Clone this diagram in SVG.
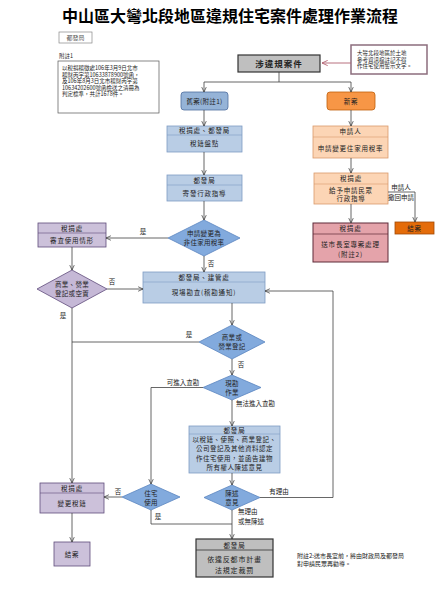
<svg xmlns="http://www.w3.org/2000/svg" width="446" height="600" viewBox="0 0 446 600">
<style>
text{font-family:"Noto Sans CJK TC","Noto Sans CJK SC",sans-serif;fill:#222;}
.t{font-size:6.5px;letter-spacing:0.8px;text-anchor:middle;}
.s{font-size:5.5px;}
.lb{font-size:6.5px;text-anchor:middle;}
.ln{fill:none;stroke:#404040;stroke-width:0.8;}
.bb{fill:#b9cde5;stroke:#7e9cc4;stroke-width:0.8;}
.db{fill:#82aadd;stroke:#5b85c0;stroke-width:0.8;}
.lv{fill:#ccc1da;stroke:#5f4b7b;stroke-width:0.8;}
.ld{fill:#c5b8d6;stroke:#5f4b7b;stroke-width:0.8;}
.pc{fill:#fcd5b5;stroke:#d99a6c;stroke-width:0.8;}
.pk{fill:#e4a3aa;stroke:#5e2a38;stroke-width:1;}
.gy{fill:#bfbfbf;stroke:#333;stroke-width:1.2;}
.hl{stroke-width:0.6;}
</style>
<defs>
<marker id="ar" viewBox="0 0 8 8" refX="7.5" refY="4" markerWidth="6" markerHeight="6" orient="auto" markerUnits="userSpaceOnUse"><path d="M1,1 L7.5,4 L1,7" fill="none" stroke="#404040" stroke-width="1"/></marker>
<marker id="arr" viewBox="0 0 8 8" refX="7.5" refY="4" markerWidth="7" markerHeight="7" orient="auto" markerUnits="userSpaceOnUse"><path d="M1,1 L7.5,4 L1,7" fill="none" stroke="#b06070" stroke-width="1"/></marker>
</defs>
<rect width="446" height="600" fill="#fff"/>

<g id="title"><text x="230" y="22" style="font-size:16px;font-weight:bold;text-anchor:middle;fill:#000">中山區大彎北段地區違規住宅案件處理作業流程</text></g>
<g id="dept"><rect x="59" y="32" width="33" height="11" fill="#fff" stroke="#888" stroke-width="0.7"/><text x="75.5" y="40" style="font-size:6px;text-anchor:middle;fill:#555">都發局</text></g>

<g id="note1">
<text x="59" y="58" class="s">附註1</text>
<rect x="58" y="61" width="101" height="52" fill="#fff" stroke="#555" stroke-width="0.7"/>
<text x="62" y="70" class="s">以稅捐稽徵處106年3月9日北市</text>
<text x="62" y="76.5" class="s">稽財丙字第10633878900號函，</text>
<text x="62" y="83" class="s">及106年8月3日北市稽財丙字第</text>
<text x="62" y="89.5" class="s">10634202600號函檢送之清冊為</text>
<text x="62" y="96" class="s">判定標準，共計1678件。</text>
</g>

<g id="note-top">
<rect x="351" y="45" width="76" height="29" fill="#fff" stroke="#8c6d7d" stroke-width="1.5"/>
<text x="357" y="55" class="s">大彎北段地區於土地</text>
<text x="357" y="61.5" class="s">參考資訊檔註記不得</text>
<text x="357" y="68" class="s">作住宅使用警示文字。</text>
</g>

<g id="note2">
<text x="297" y="558" style="font-size:6px">附註2:送市長室前，將由財政局及都發局</text>
<text x="297" y="566" style="font-size:6px">對申請民眾再勸導。</text>
</g>

<g id="start"><rect x="238" y="55" width="82" height="17" class="gy"/><text x="279" y="66.5" style="font-size:8.5px;font-weight:bold;letter-spacing:1px;text-anchor:middle">涉違規案件</text></g>

<g id="old"><rect x="181" y="92" width="47" height="18" rx="3" fill="#95b3d7" stroke="#4f6f9f" stroke-width="0.8"/><text x="204.5" y="103.5" class="t" style="letter-spacing:0.3px">舊案(附註1)</text></g>
<g id="new"><rect x="327" y="92" width="48" height="18" rx="3" fill="#f79646" stroke="#c0600a" stroke-width="0.8"/><text x="351" y="103.5" class="t">新案</text></g>

<g id="tax-check"><rect x="167" y="126" width="75" height="26" class="bb"/><line x1="167" y1="135" x2="242" y2="135" class="bb hl"/><text x="204.5" y="133" class="t">稅捐處、都發局</text><text x="204.5" y="146" class="t">稅籍盤點</text></g>
<g id="guide"><rect x="167" y="175" width="75" height="26" class="bb"/><line x1="167" y1="185" x2="242" y2="185" class="bb hl"/><text x="204.5" y="182.5" class="t">都發局</text><text x="204.5" y="195.5" class="t">寄發行政指導</text></g>
<g id="d-apply"><polygon points="204,220 240,238 204,256 168,238" class="db"/><text x="204" y="236" class="t" style="letter-spacing:0.3px">申請變更為</text><text x="204" y="245" class="t" style="letter-spacing:0.3px">非住家用稅率</text></g>
<g id="inspect"><rect x="143" y="272" width="122" height="31" class="bb"/><line x1="143" y1="282" x2="265" y2="282" class="bb hl"/><text x="204" y="279.5" class="t">都發局、建管處</text><text x="204" y="295" class="t">現場勘查(稽勘通知)</text></g>
<g id="tax-review"><rect x="38" y="223" width="68" height="24" class="lv"/><line x1="38" y1="233" x2="106" y2="233" class="lv hl"/><text x="72" y="230.5" class="t">稅捐處</text><text x="72" y="242.5" class="t">審查使用情形</text></g>
<g id="d-biz"><polygon points="72,270 107,289 72,308 37,289" class="ld"/><text x="72" y="287" class="t" style="letter-spacing:0.3px">商業、營業</text><text x="72" y="296" class="t" style="letter-spacing:0.3px">登記或空置</text></g>
<g id="d-reg"><polygon points="232,325 265,342 232,359 199,342" class="db"/><text x="232" y="340" class="t" style="letter-spacing:0.3px">商業或</text><text x="232" y="349" class="t" style="letter-spacing:0.3px">營業登記</text></g>
<g id="d-site"><polygon points="232,375 261,387.5 232,400 203,387.5" class="db"/><text x="232" y="386" class="t" style="letter-spacing:0.3px">現勘</text><text x="232" y="395" class="t" style="letter-spacing:0.3px">作業</text></g>
<g id="confirm"><rect x="189" y="426" width="91" height="47" class="bb"/><line x1="189" y1="434" x2="280" y2="434" class="bb hl"/><text x="234.5" y="432.5" class="t">都發局</text><text x="234.5" y="441.5" class="t" style="letter-spacing:0.5px">以稅籍、使照、商業登記、</text><text x="234.5" y="451" class="t" style="letter-spacing:0.5px">公司登記及其他資料認定</text><text x="234.5" y="460.5" class="t" style="letter-spacing:0.5px">作住宅使用，並函告建物</text><text x="234.5" y="470" class="t" style="letter-spacing:0.5px">所有權人陳述意見</text></g>
<g id="d-state"><polygon points="232,485 260,497.5 232,510 204,497.5" class="db"/><text x="232" y="496" class="t" style="letter-spacing:0.3px">陳述</text><text x="232" y="505" class="t" style="letter-spacing:0.3px">意見</text></g>
<g id="d-house"><polygon points="151,484 180,497 151,510 122,497" class="db"/><text x="151" y="495.5" class="t" style="letter-spacing:0.3px">住宅</text><text x="151" y="505" class="t" style="letter-spacing:0.3px">使用</text></g>
<g id="tax-change"><rect x="40" y="483" width="64" height="30" class="lv"/><line x1="40" y1="493" x2="104" y2="493" class="lv hl"/><text x="72" y="490.5" class="t">稅捐處</text><text x="72" y="506" class="t">變更稅籍</text></g>
<g id="close1"><rect x="54" y="542" width="36" height="24" class="lv"/><text x="72" y="556.5" class="t">結案</text></g>
<g id="fine"><rect x="196" y="539" width="77" height="38" class="gy"/><line x1="196" y1="550" x2="273" y2="550" stroke="#333" stroke-width="0.8"/><text x="234.5" y="547.5" class="t">都發局</text><text x="234.5" y="562" class="t" style="font-size:7px">依違反都市計畫</text><text x="234.5" y="573" class="t" style="font-size:7px">法規定裁罰</text></g>

<g id="applicant"><rect x="313" y="126" width="75" height="32" class="pc"/><line x1="313" y1="137" x2="388" y2="137" class="pc hl"/><text x="350.5" y="134" class="t">申請人</text><text x="350.5" y="150.5" class="t">申請變更住家用稅率</text></g>
<g id="tax-guide"><rect x="314" y="173" width="74" height="31" class="pc"/><line x1="314" y1="184" x2="388" y2="184" class="pc hl"/><text x="351" y="181" class="t">稅捐處</text><text x="351" y="192.5" class="t">給予申請民眾</text><text x="351" y="201" class="t">行政指導</text></g>
<g id="mayor"><rect x="313" y="223" width="75" height="39" class="pk"/><line x1="313" y1="234" x2="388" y2="234" stroke="#5e2a38" stroke-width="0.7"/><text x="350.5" y="231" class="t">稅捐處</text><text x="350.5" y="246.5" class="t">送市長室專案處理</text><text x="350.5" y="256.5" class="t">(附註2)</text></g>
<g id="close2"><rect x="395" y="222" width="39" height="12" fill="#e46c0a" stroke="#a04a06" stroke-width="0.8"/><text x="414.5" y="230.5" class="t">結案</text></g>

<g id="connectors">
<line x1="351" y1="63" x2="322" y2="63" stroke="#b06070" stroke-width="0.9" marker-end="url(#arr)"/>
<path d="M279,72 V82 M204,82 H351" class="ln"/>
<path d="M204,82 V92" class="ln" marker-end="url(#ar)"/>
<path d="M351,82 V92" class="ln" marker-end="url(#ar)"/>
<path d="M204,110 V126" class="ln" marker-end="url(#ar)"/>
<path d="M204,152 V175" class="ln" marker-end="url(#ar)"/>
<path d="M204,201 V220" class="ln" marker-end="url(#ar)"/>
<path d="M168,238 H106" class="ln" marker-end="url(#ar)"/>
<path d="M204,256 V272" class="ln" marker-end="url(#ar)"/>
<path d="M72,247 V270" class="ln" marker-end="url(#ar)"/>
<path d="M107,289 H143" class="ln" marker-end="url(#ar)"/>
<path d="M72,308 V483" class="ln" marker-end="url(#ar)"/>
<path d="M199,342 H72" class="ln"/>
<path d="M232,303 V325" class="ln" marker-end="url(#ar)"/>
<path d="M232,359 V375" class="ln" marker-end="url(#ar)"/>
<path d="M203,387.5 H151 V484" class="ln" marker-end="url(#ar)"/>
<path d="M232,400 V426" class="ln" marker-end="url(#ar)"/>
<path d="M232,473 V485" class="ln" marker-end="url(#ar)"/>
<path d="M260,497.5 H333 V291 H265" class="ln" marker-end="url(#ar)"/>
<path d="M232,510 V539" class="ln" marker-end="url(#ar)"/>
<path d="M122,497 H104" class="ln" marker-end="url(#ar)"/>
<path d="M151,510 V524 H232" class="ln"/>
<path d="M72,513 V542" class="ln" marker-end="url(#ar)"/>
<path d="M351,110 V126" class="ln" marker-end="url(#ar)"/>
<path d="M351,158 V173" class="ln" marker-end="url(#ar)"/>
<path d="M351,204 V223" class="ln" marker-end="url(#ar)"/>
<path d="M388,192 H415 V222" class="ln" marker-end="url(#ar)"/>
</g>

<g id="labels">
<text x="143" y="234" class="lb">是</text>
<text x="211" y="266" class="lb">否</text>
<text x="112" y="284" class="lb">否</text>
<text x="63" y="318" class="lb">是</text>
<text x="189" y="337" class="lb">是</text>
<text x="241" y="367" class="lb">否</text>
<text x="183" y="385" class="lb">可進入查勘</text>
<text x="236" y="406" style="font-size:6.5px">無法進入查勘</text>
<text x="279" y="494" class="lb">有理由</text>
<text x="238" y="514" style="font-size:6.5px">無理由</text>
<text x="238" y="523.5" style="font-size:6.5px">或無陳述</text>
<text x="118" y="494" class="lb">否</text>
<text x="158" y="519" class="lb">是</text>
<text x="401" y="190" class="lb">申請人</text>
<text x="401" y="200" class="lb">撤回申請</text>
</g>
</svg>
